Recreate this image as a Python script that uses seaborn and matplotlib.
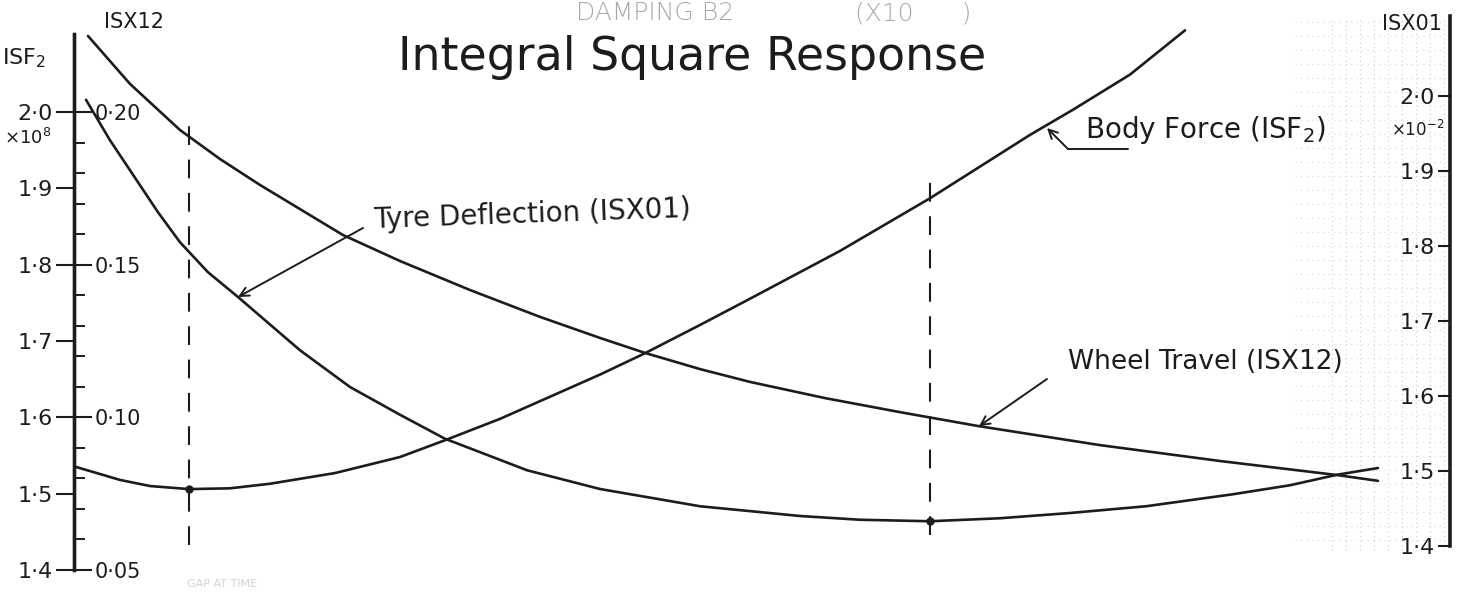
import matplotlib
matplotlib.use("Agg")
import matplotlib.pyplot as plt
from matplotlib.lines import Line2D
import pandas as pd
import seaborn as sns

# ---- data -------------------------------------------------------------
# damping B2 along the horizontal axis (no scale printed)
bf_damping = [0.02, 0.46, 0.76, 1.15, 1.56, 1.96, 2.61, 3.26, 3.71, 4.26, 4.76, 5.26,
              5.71, 6.26, 6.74, 7.66, 8.56, 9.56, 9.99, 10.56, 11.11]
bf_isf2 = [1.535, 1.518, 1.510, 1.506, 1.507, 1.513, 1.527, 1.548, 1.570, 1.598, 1.627,
           1.656, 1.684, 1.721, 1.754, 1.818, 1.887, 1.970, 2.003, 2.049, 2.107]

wt_damping = [0.14, 0.56, 1.06, 1.46, 1.86, 2.26, 2.69, 3.26, 3.96, 4.66, 5.26, 5.71,
              6.26, 6.76, 7.51, 8.26, 9.05, 10.26, 11.46, 12.63, 13.04]
wt_isx12 = [0.2249, 0.2092, 0.1941, 0.1846, 0.1761, 0.1682, 0.1597, 0.1512, 0.1417,
            0.1329, 0.1260, 0.1211, 0.1158, 0.1116, 0.1063, 0.1017, 0.0971, 0.0909,
            0.0857, 0.0811, 0.0792]

td_damping = [0.12, 0.36, 0.61, 0.84, 1.06, 1.34, 1.64, 2.26, 2.76, 3.26, 3.71, 4.16,
              4.53, 5.26, 6.26, 7.26, 7.86, 8.56, 9.26, 9.96, 10.72, 11.59, 12.16,
              12.63, 13.04]
td_isx01 = [1.995, 1.941, 1.891, 1.845, 1.805, 1.765, 1.732, 1.661, 1.612, 1.575, 1.543,
            1.520, 1.501, 1.476, 1.453, 1.440, 1.435, 1.433, 1.437, 1.444, 1.453, 1.469,
            1.481, 1.495, 1.504]

# optimum points marked on the curves
bf_opt = (1.15, 1.506)
td_opt = (8.56, 1.433)

isf2_ticks = [1.4, 1.5, 1.6, 1.7, 1.8, 1.9, 2.0]
isf2_labels = ["1·4", "1·5", "1·6", "1·7", "1·8", "1·9", "2·0"]
isx12_ticks = [0.05, 0.10, 0.15, 0.20]
isx12_labels = ["0·05", "0·10", "0·15", "0·20"]
isx01_ticks = [1.4, 1.5, 1.6, 1.7, 1.8, 1.9, 2.0]
isx01_labels = ["1·4", "1·5", "1·6", "1·7", "1·8", "1·9", "2·0"]

# ---- figure -----------------------------------------------------------
sns.set_theme(style="white")
plt.rcParams["font.family"] = ["DejaVu Sans"]

W, H = 1479, 607
fig = plt.figure(figsize=(W / 100, H / 100), dpi=100)
fig.patch.set_facecolor("white")

L, R, T, B = 74, 1450, 10, 580  # axes frame in pixels (top-left origin)
ax = fig.add_axes([L / W, 1 - B / H, (R - L) / W, (B - T) / H])
ax.set_facecolor("none")
ax12 = ax.twinx()
axr = ax.twinx()


def fpt(x, y):
    return (x / W, 1 - y / H)


def calibrate(a, v0, p0, v1, p1):
    """Set y-limits so value v0 sits at pixel row p0 and v1 at p1."""
    k = (v1 - v0) / (p0 - p1)
    a.set_ylim(v0 - (B - p0) * k, v0 + (p0 - T) * k)
    return lambda p: v0 + (p0 - p) * k


isf2_at = calibrate(ax, 1.4, 570, 2.0, 112)
isx12_at = calibrate(ax12, 0.05, 570, 0.20, 112)
isx01_at = calibrate(axr, 1.4, 546, 2.0, 96)
for a in (ax, ax12, axr):
    a.set_xlim(0, 13.76)
    a.grid(False)
    for s in a.spines.values():
        s.set_visible(False)
    a.set_xticks([])

ink = "#1c1c1c"
lw = 1.9

# faint graph-paper texture near the right edge
for gx in range(1332, 1446, 14):
    fig.add_artist(Line2D([gx / W] * 2, [1 - 550 / H, 1 - 18 / H], color="#cdcdcd",
                          lw=0.8, ls=(0, (1, 3)), transform=fig.transFigure, zorder=0))
for gy in range(22, 552, 14):
    fig.add_artist(Line2D([1295 / W, 1445 / W], [1 - gy / H] * 2, color="#d6d6d6",
                          lw=0.8, ls=(0, (1, 4)), transform=fig.transFigure, zorder=0))

bf = pd.DataFrame({"damping": bf_damping, "value": bf_isf2})
wt = pd.DataFrame({"damping": wt_damping, "value": wt_isx12})
td = pd.DataFrame({"damping": td_damping, "value": td_isx01})

sns.lineplot(data=bf, x="damping", y="value", ax=ax, color=ink, lw=lw, sort=False, estimator=None)
sns.lineplot(data=wt, x="damping", y="value", ax=ax12, color=ink, lw=lw, sort=False, estimator=None)
sns.lineplot(data=td, x="damping", y="value", ax=axr, color=ink, lw=lw, sort=False, estimator=None)
for a in (ax, ax12, axr):
    a.set_xlabel("")
    a.set_ylabel("")

ax.plot(*bf_opt, "o", ms=5, color=ink)
axr.plot(*td_opt, "o", ms=5, color=ink)

# dashed verticals through the optima
ax.vlines(bf_opt[0], isf2_at(545), isf2_at(120), colors=ink, lw=1.5, linestyles=(0, (9, 7)))
ax.vlines(td_opt[0], isf2_at(535), isf2_at(180), colors=ink, lw=1.5, linestyles=(0, (9, 7)))

# ---- axes -------------------------------------------------------------
ax.spines["left"].set_visible(True)
ax.spines["left"].set_linewidth(2.4)
ax.spines["left"].set_color(ink)
ax.spines["left"].set_bounds(1.4, isf2_at(34))
ax.yaxis.set_ticks_position("left")
ax.set_yticks(isf2_ticks, isf2_labels)
ax.tick_params(axis="y", direction="out", length=13, width=1.5, color=ink,
               labelsize=16, labelcolor=ink, pad=2)

ax12.spines["right"].set_visible(True)
ax12.spines["right"].set_position(("axes", 0.0))
ax12.spines["right"].set_linewidth(2.4)
ax12.spines["right"].set_color(ink)
ax12.spines["right"].set_bounds(0.05, isx12_at(34))
ax12.yaxis.set_ticks_position("right")
ax12.set_yticks(isx12_ticks, isx12_labels)
ax12.set_yticks([0.05 + 0.01 * i for i in range(16)], minor=True)
ax12.tick_params(axis="y", which="major", direction="out", length=13, width=1.5,
                 color=ink, labelsize=15, labelcolor=ink, pad=2)
ax12.tick_params(axis="y", which="minor", direction="out", length=8, width=1.4, color=ink)

axr.spines["left"].set_visible(True)
axr.spines["left"].set_position(("axes", 1.0))
axr.spines["left"].set_linewidth(2.6)
axr.spines["left"].set_color(ink)
axr.spines["left"].set_bounds(1.4, isx01_at(16))
axr.yaxis.set_ticks_position("left")
axr.set_yticks(isx01_ticks, isx01_labels)
axr.tick_params(axis="y", direction="out", length=9, width=1.5, color=ink,
                labelsize=16, labelcolor=ink, pad=2, left=True, labelleft=True,
                right=False, labelright=False)


# ---- texts ------------------------------------------------------------
def txt(x, y, s, **kw):
    kw.setdefault("color", ink)
    fig.text(*fpt(x, y), s, transform=fig.transFigure, **kw)


txt(2, 58, "ISF$_2$", fontsize=16, ha="left", va="center")
txt(134, 22, "ISX12", fontsize=15, ha="center", va="center")
txt(28, 138, "×10$^8$", fontsize=13, ha="center", va="center")
txt(1412, 24, "ISX01", fontsize=15, ha="center", va="center")
txt(1418, 130, "×10$^{-2}$", fontsize=12, ha="center", va="center")

txt(692, 57, "Integral Square Response", fontsize=33, ha="center", va="center")
txt(655, 1, "DAMPING B2", fontsize=18, ha="center", va="top", color="#a8a8a8",
    fontweight="light")
txt(913, 1, "(X10      )", fontsize=18, ha="center", va="top", color="#a8a8a8",
    fontweight="light")
txt(222, 584, "GAP AT TIME", fontsize=8, ha="center", va="center", color="#d2d2d2")

txt(373, 214, "Tyre Deflection (ISX01)", fontsize=20, ha="left", va="center", rotation=2)
txt(1068, 362, "Wheel Travel (ISX12)", fontsize=19, ha="left", va="center")
txt(1085, 130, "Body Force (ISF$_2$)", fontsize=20, ha="left", va="center")

arrow = dict(arrowstyle="->", color=ink, lw=1.4, shrinkA=0, shrinkB=0,
             mutation_scale=16)
axr.annotate("", xy=(td_damping[6], td_isx01[6]), xycoords="data",
             xytext=fpt(363, 228), textcoords="figure fraction", arrowprops=arrow)
ax12.annotate("", xy=(wt_damping[16], wt_isx12[16]), xycoords="data",
              xytext=fpt(1047, 379), textcoords="figure fraction", arrowprops=arrow)
ax.annotate("", xy=fpt(1047, 128), xycoords="figure fraction",
            xytext=fpt(1068, 149), textcoords="figure fraction", arrowprops=arrow)
fig.add_artist(Line2D([1068 / W, 1128 / W], [1 - 149 / H] * 2, color=ink, lw=1.4,
                      transform=fig.transFigure))

fig.savefig("out.png", dpi=100, facecolor="white")
